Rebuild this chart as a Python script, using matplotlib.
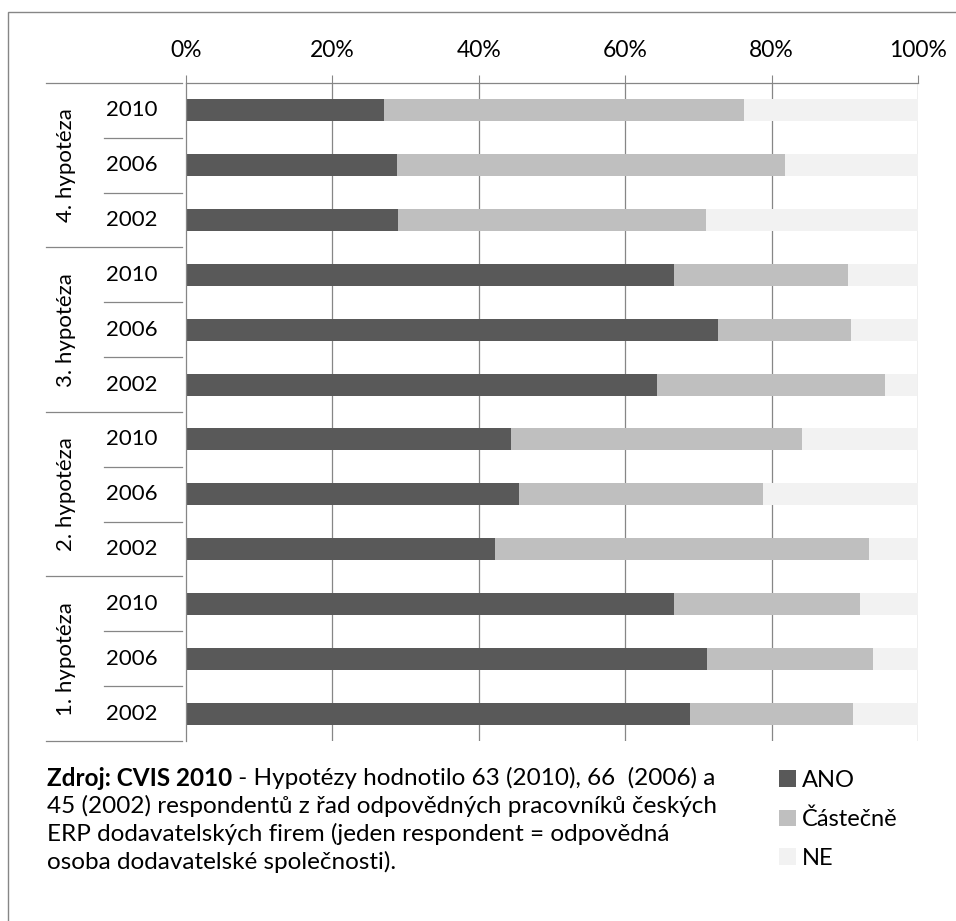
import matplotlib
matplotlib.use("Agg")
import matplotlib.pyplot as plt
import matplotlib.patches as mpatches
from matplotlib.transforms import blended_transform_factory

plt.rcParams['font.family'] = ['Lato', 'DejaVu Sans']

W, H = 956, 921

HYPOTHESES = ["1. hypotéza", "2. hypotéza", "3. hypotéza", "4. hypotéza"]
YEARS = ["2002", "2006", "2010"]

# shares in %, bottom bar first (1. hypotéza 2002 ... 4. hypotéza 2010)
ANO      = [68.9, 71.2, 66.7, 42.2, 45.5, 44.4, 64.4, 72.7, 66.7, 28.9, 28.8, 27.0]
CASTECNE = [22.2, 22.7, 25.4, 51.1, 33.3, 39.7, 31.1, 18.2, 23.8, 42.2, 53.0, 49.2]
NE       = [8.9, 6.1, 7.9, 6.7, 21.2, 15.9, 4.4, 9.1, 9.5, 28.9, 18.2, 23.8]

SERIES = ["ANO", "Částečně", "NE"]
COLORS = ["#595959", "#BFBFBF", "#F2F2F2"]
LINE = "#868686"

TICKS = [0, 20, 40, 60, 80, 100]
TICK_LABELS = ["0%", "20%", "40%", "60%", "80%", "100%"]

FS = 16
FS_NOTE = 17.5


def fx(px):
    return px / W


def fy(py):
    return 1 - py / H


fig = plt.figure(figsize=(W / 100, H / 100), dpi=100)

# chart frame (runs off the right and bottom edge)
fig.patches.append(mpatches.Rectangle((fx(8), -0.1), 1.2, fy(12) + 0.1,
                                      transform=fig.transFigure, fill=False,
                                      edgecolor=LINE, lw=1.0))

ax = fig.add_axes([fx(186), fy(741), fx(918) - fx(186), fy(83) - fy(741)])

n = len(ANO)
ypos = list(range(n))
left2 = [a + c for a, c in zip(ANO, CASTECNE)]
handles = []
for vals, lefts, color, name in [(ANO, [0] * n, COLORS[0], SERIES[0]),
                                 (CASTECNE, ANO, COLORS[1], SERIES[1]),
                                 (NE, left2, COLORS[2], SERIES[2])]:
    h = ax.barh(ypos, vals, left=lefts, height=0.4, color=color, label=name, zorder=2)
    handles.append(h)

ax.set_xlim(0, 100)
ax.set_ylim(-0.5, n - 0.5)

# percentage axis on top
ax.xaxis.tick_top()
ax.set_xticks(TICKS)
ax.set_xticklabels(TICK_LABELS, fontsize=16.5)
ax.tick_params(axis='x', length=6, width=0.8, color=LINE, pad=10)
ax.set_yticks([])
for x in TICKS[1:]:
    ax.axvline(x, color=LINE, lw=0.9, zorder=1)

for side in ["right", "bottom"]:
    ax.spines[side].set_visible(False)
for side in ["top", "left"]:
    ax.spines[side].set_color(LINE)
    ax.spines[side].set_linewidth(0.9)

# two-level category labels on the left
tr = blended_transform_factory(ax.transAxes, ax.transData)
width_px = 918 - 186
x_year = (104 - 186) / width_px
x_group = (46 - 186) / width_px
x_year_lbl = (132 - 186) / width_px
x_group_lbl = (66 - 186) / width_px

for i in range(n):
    ax.text(x_year_lbl, i, YEARS[i % 3], transform=tr, fontsize=FS,
            ha='center', va='center')

for b in range(n + 1):
    y = b - 0.5
    start = x_group if b % 3 == 0 else x_year
    ax.plot([start, -0.006], [y, y], transform=tr, color=LINE, lw=0.9, clip_on=False)

for g, name in enumerate(HYPOTHESES):
    ax.text(x_group_lbl, g * 3 + 1, name, transform=tr, fontsize=FS,
            rotation=90, ha='center', va='center')

# source note
fig.canvas.draw()
renderer = fig.canvas.get_renderer()
line_y = [778, 806, 834, 862]
bold = fig.text(fx(47), fy(line_y[0]), "Zdroj: CVIS 2010", fontsize=FS_NOTE,
                fontweight='bold', va='center')
bb = bold.get_window_extent(renderer)
fig.text(bb.x1 / W, fy(line_y[0]), " - Hypotézy hodnotilo 63 (2010), 66  (2006) a",
         fontsize=FS_NOTE, va='center')
rest = ["45 (2002) respondentů z řad odpovědných pracovníků českých",
        "ERP dodavatelských firem (jeden respondent = odpovědná",
        "osoba dodavatelské společnosti)."]
for yy, txt in zip(line_y[1:], rest):
    fig.text(fx(47), fy(yy), txt, fontsize=FS_NOTE, va='center')

fig.legend(handles=handles, labels=SERIES, loc='upper left',
           bbox_to_anchor=(fx(779), fy(770)), frameon=False, fontsize=17,
           handlelength=0.7, handleheight=0.7, handletextpad=0.25,
           labelspacing=0.75, borderpad=0, borderaxespad=0)

plt.savefig("out.png", dpi=100)
